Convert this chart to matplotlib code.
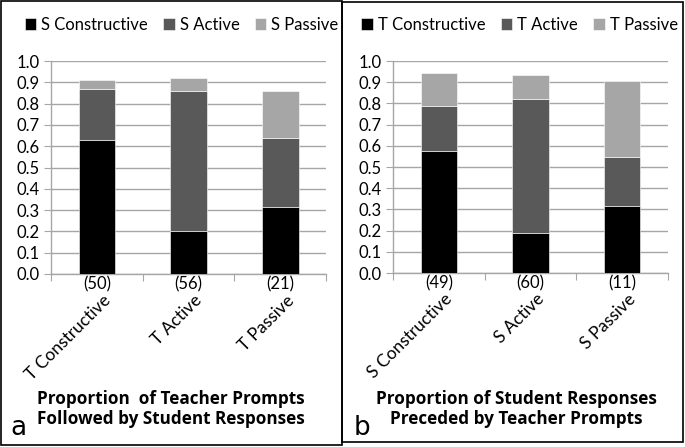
import matplotlib
matplotlib.use("Agg")
import matplotlib.pyplot as plt
import numpy as np
from matplotlib.patches import Rectangle

# Panel a
a_categories = ["T Constructive", "T Active", "T Passive"]
a_counts = ["(50)", "(56)", "(21)"]
a_series = ["S Constructive", "S Active", "S Passive"]
a_constructive = [0.63, 0.20, 0.315]
a_active = [0.24, 0.66, 0.325]
a_passive = [0.04, 0.06, 0.22]
a_title = "Proportion  of Teacher Prompts\nFollowed by Student Responses"

# Panel b
b_categories = ["S Constructive", "S Active", "S Passive"]
b_counts = ["(49)", "(60)", "(11)"]
b_series = ["T Constructive", "T Active", "T Passive"]
b_constructive = [0.575, 0.19, 0.315]
b_active = [0.215, 0.63, 0.23]
b_passive = [0.155, 0.115, 0.36]
b_title = "Proportion of Student Responses\nPreceded by Teacher Prompts"

yticks = [0.0, 0.1, 0.2, 0.3, 0.4, 0.5, 0.6, 0.7, 0.8, 0.9, 1.0]

colors = ["#000000", "#595959", "#a6a6a6"]
grid_c = "#a6a6a6"
FONT = "Lato"
TFONT = "Open Sans"

fig = plt.figure(figsize=(6.85, 4.47), dpi=100)
W, H = 685, 447

def px_rect(x0, y0, x1, y1):
    return [x0 / W, 1 - y1 / H, (x1 - x0) / W, (y1 - y0) / H]

# panel borders
for (x0, y0, x1, y1) in [(1, 1, 342, 445), (342, 2, 683, 442)]:
    fig.patches.append(Rectangle((x0 / W, 1 - y1 / H), (x1 - x0) / W, (y1 - y0) / H,
                                 transform=fig.transFigure, fill=False,
                                 edgecolor="black", linewidth=1.2))

def panel(ax_rect, cats, counts, series, cons, act, pas, title, letter, lx, cx, legx):
    ax = fig.add_axes(px_rect(*ax_rect))
    x = np.arange(len(cats))
    bottoms = np.zeros(len(cats))
    handles = []
    for vals, col, lab in zip([cons, act, pas], colors, series):
        b = ax.bar(x, vals, width=0.4, bottom=bottoms, color=col, edgecolor="white",
                   linewidth=0.4, label=lab, zorder=3)
        handles.append(b)
        bottoms = bottoms + np.array(vals)
    ax.set_xlim(-0.5, len(cats) - 0.5)
    ax.set_ylim(0, 1.0)
    ax.set_yticks(yticks)
    ax.set_yticklabels([f"{t:.1f}" for t in yticks], fontsize=12, family=FONT)
    ax.yaxis.grid(True, color=grid_c, linewidth=1.0, zorder=0)
    ax.set_axisbelow(True)
    for s in ["top", "right"]:
        ax.spines[s].set_visible(False)
    for s in ["left", "bottom"]:
        ax.spines[s].set_color(grid_c)
        ax.spines[s].set_linewidth(1.0)
    ax.tick_params(axis="y", length=5, color=grid_c, pad=3)
    ax.set_xticks(np.arange(-0.5, len(cats), 1.0))
    ax.set_xticklabels([])
    ax.tick_params(axis="x", length=5, color=grid_c)
    for xi, c, n in zip(x, cats, counts):
        ax.annotate(n, xy=(xi, 0), xycoords=("data", "axes fraction"),
                    xytext=(0, -2), textcoords="offset points",
                    ha="center", va="top", fontsize=12, family=FONT)
        ax.annotate(c, xy=(xi, 0), xycoords=("data", "axes fraction"),
                    xytext=(4, -13), textcoords="offset points",
                    ha="right", va="top", rotation=45, rotation_mode="anchor",
                    fontsize=12.5, family=FONT)
    ax.legend(handles=handles, loc="center", bbox_to_anchor=(legx, 1.17),
              ncol=3, frameon=False, prop={"family": FONT, "size": 12},
              handlelength=0.7, handleheight=0.7, handletextpad=0.3,
              columnspacing=0.9)
    fig.text(cx / W, 1 - 409 / H, title, ha="center", va="center",
             fontsize=12.3, fontweight="bold", family=TFONT, linespacing=1.2)
    fig.text(lx / W, 1 - 428 / H, letter, ha="center", va="center",
             fontsize=19, family="DejaVu Sans")
    return ax

panel((51, 61, 326, 274), a_categories, a_counts, a_series, a_constructive, a_active,
      a_passive, a_title, "a", 18, 171, 0.475)
panel((393, 61, 668, 273), b_categories, b_counts, b_series, b_constructive, b_active,
      b_passive, b_title, "b", 362, 516, 0.46)

fig.savefig("out.png", dpi=100)
